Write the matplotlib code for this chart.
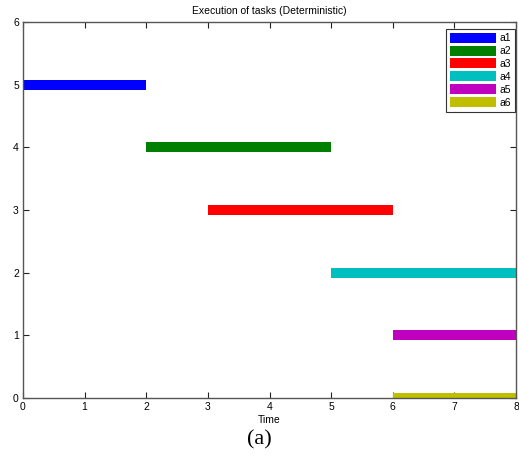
import matplotlib
matplotlib.use("Agg")
import matplotlib.pyplot as plt
from matplotlib.lines import Line2D

tasks = ["a1", "a2", "a3", "a4", "a5", "a6"]
starts = [0, 2, 3, 5, 6, 6]
ends = [2, 5, 6, 8, 8, 8]
rows = [5, 4, 3, 2, 1, 0]
colors = ["#0000ff", "#007f00", "#ff0000", "#00bfbf", "#bf00bf", "#bfbf00"]

plt.rcParams["font.family"] = ["Liberation Sans", "DejaVu Sans"]

fig = plt.figure(figsize=(5.19, 4.62), dpi=100)
ax = fig.add_axes([23 / 519, 1 - 398 / 462, 493 / 519, 376 / 462])

for s, e, r, c in zip(starts, ends, rows, colors):
    ax.plot([s, e], [r, r], color=c, lw=7.2, solid_capstyle="butt")

ax.set_xlim(0, 8)
ax.set_ylim(0, 6)
ax.set_xticks(range(0, 9))
ax.set_yticks(range(0, 7))
ax.tick_params(direction="in", top=True, right=True, labelsize=7.5, length=4,
               width=0.8, pad=3, color="#222222")
for sp in ax.spines.values():
    sp.set_color("#555555")
    sp.set_linewidth(1.0)

ax.set_title("Execution of tasks (Deterministic)", fontsize=7.5, pad=6)
ax.set_xlabel("Time", fontsize=7.5, labelpad=2)

handles = [Line2D([0], [0], color=c, lw=7.2, solid_capstyle="butt") for c in colors]
leg = ax.legend(handles, tasks, loc="upper right", bbox_to_anchor=(0.998, 0.981),
                fontsize=7.5, fancybox=False, framealpha=1, edgecolor="#333333",
                handlelength=4.4, handletextpad=0.3, labelspacing=0.28,
                borderpad=0.4, borderaxespad=0)
leg.get_frame().set_linewidth(0.8)

fig.text(0.5, 1 - 440 / 462, "(a)", ha="center", va="center",
         family="Liberation Serif", fontsize=16)

fig.savefig("out.png", dpi=100)
